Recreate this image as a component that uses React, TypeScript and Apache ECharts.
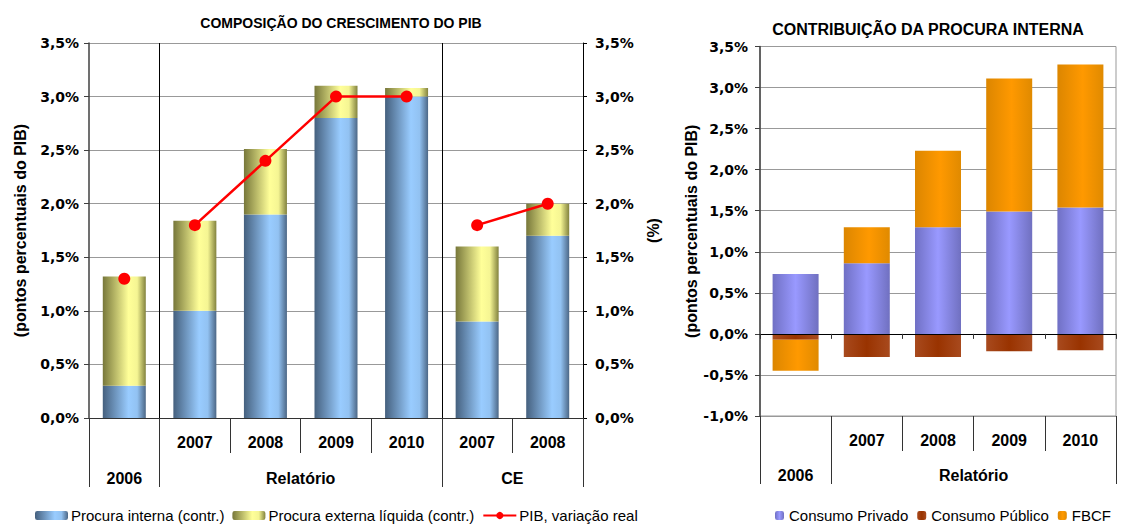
import React, { useEffect, useRef } from 'react';
import * as echarts from 'echarts';

// ---- Left chart data ----
const leftTopLabels = ['', '2007', '2008', '2009', '2010', '2007', '2008'];
const leftGroups = ['2006', 'Relatório', 'Relatório', 'Relatório', 'Relatório', 'CE', 'CE'];
const procuraInterna = [0.3, 1.0, 1.9, 2.8, 3.0, 0.9, 1.7];
const procuraExterna = [1.02, 0.84, 0.61, 0.3, 0.08, 0.7, 0.3];
const pibVariacao = [1.3, 1.8, 2.4, 3.0, 3.0, 1.8, 2.0];

// ---- Right chart data ----
const rightTopLabels = ['', '2007', '2008', '2009', '2010'];
const rightGroups = ['2006', 'Relatório', 'Relatório', 'Relatório', 'Relatório'];
const consumoPrivado = [0.73, 0.86, 1.3, 1.49, 1.54];
const consumoPublico = [-0.07, -0.28, -0.28, -0.21, -0.2];
const fbcf = [-0.38, 0.44, 0.93, 1.62, 1.74];

const FA = 'Liberation Sans, Arial, sans-serif';
const FD = 'DejaVu Sans, Verdana, sans-serif';

const pct = (v: number) => v.toFixed(1).replace('.', ',') + '%';

function groupAxis(groups: string[]) {
  const n = groups.length;
  const data: string[] = new Array(2 * n + 1).fill('');
  const bounds: number[] = [];
  let s = 0;
  for (let i = 1; i <= n; i++) {
    if (i === n || groups[i] !== groups[s]) {
      bounds.push(2 * s);
      data[s + i] = groups[s];
      s = i;
    }
  }
  bounds.push(2 * n);
  return { data, bounds };
}

const hGrad = (stops: [number, string][]) =>
  new echarts.graphic.LinearGradient(0, 0, 1, 0, stops.map(([offset, color]) => ({ offset, color })));

export default function App() {
  const ref = useRef<HTMLDivElement>(null);
  useEffect(() => {
    if (!ref.current) return;
    const chart = echarts.init(ref.current, undefined, { renderer: 'svg' });
    const gl = groupAxis(leftGroups);
    const gr = groupAxis(rightGroups);
    const segs = Array.from(new Set(leftGroups));

    const blue = hGrad([[0, '#45607e'], [0.6, '#99ccff'], [0.8, '#92c2f2'], [1, '#4c6786']]);
    const yellow = hGrad([[0, '#77773a'], [0.6, '#ffff99'], [0.8, '#f5f593'], [1, '#82823e']]);
    const purple = hGrad([[0, '#7070c4'], [0.5, '#9999ff'], [1, '#7070c0']]);
    const brown = hGrad([[0, '#a84a1e'], [0.5, '#993300'], [1, '#a84a1e']]);
    const orange = hGrad([[0, '#dc8600'], [0.55, '#ff9900'], [1, '#e08a00']]);

    const catLabel = { fontFamily: FA, fontWeight: 'bold' as const, fontSize: 16, color: '#000' };
    const tickLabel = { fontFamily: FD, fontWeight: 'bold' as const, fontSize: 14, color: '#000' };
    const nameStyle = { fontFamily: FA, fontWeight: 'bold' as const, fontSize: 16, color: '#000' };

    const option: any = {
      animation: false,
      backgroundColor: '#fff',
      title: [
        {
          text: 'COMPOSIÇÃO DO CRESCIMENTO DO PIB',
          left: 336, top: 11, textAlign: 'center',
          textStyle: { fontFamily: FA, fontWeight: 'bold', fontSize: 14, color: '#000' },
        },
        {
          text: 'CONTRIBUIÇÃO DA PROCURA INTERNA',
          left: 923, top: 16, textAlign: 'center',
          textStyle: { fontFamily: FA, fontWeight: 'bold', fontSize: 16, color: '#000' },
        },
      ],
      legend: [
        {
          data: ['Procura interna (contr.)', 'Procura externa líquida (contr.)', 'PIB, variação real'],
          left: 30, top: 503, itemWidth: 33, itemHeight: 9, itemGap: 8,
          textStyle: { fontFamily: FA, fontSize: 15, color: '#000', padding: [0, 0, 0, -2] },
        },
        {
          data: ['Consumo Privado', 'Consumo Público', 'FBCF'],
          left: 770, top: 503, itemWidth: 9, itemHeight: 9, itemGap: 9,
          textStyle: { fontFamily: FA, fontSize: 15, color: '#000' },
        },
      ],
      grid: [
        { left: 89, top: 43, width: 494, height: 375 },
        { left: 760, top: 46.5, width: 356, height: 369.5, show: true, borderColor: '#999', borderWidth: 1 },
      ],
      xAxis: [
        {
          gridIndex: 0, type: 'category', data: leftTopLabels, position: 'bottom',
          axisLine: { lineStyle: { color: '#333', width: 1 } },
          axisTick: { show: true, length: 35, interval: 0, lineStyle: { color: '#333' } },
          axisLabel: { ...catLabel, margin: 16, interval: 0 },
          splitLine: { show: false },
        },
        {
          gridIndex: 0, type: 'category', data: gl.data, position: 'bottom', boundaryGap: false,
          axisLine: { show: false },
          axisTick: { show: true, length: 69, interval: (i: number) => gl.bounds.includes(i), lineStyle: { color: '#333' } },
          axisLabel: { ...catLabel, margin: 52, interval: 0 },
          splitLine: {
            show: true,
            interval: (i: number) => gl.bounds.includes(i) && i !== 0 && i !== gl.data.length - 1,
            lineStyle: { color: '#000', width: 1 },
          },
        },
        {
          gridIndex: 1, type: 'category', data: rightTopLabels, position: 'bottom', z: 5,
          axisLine: { onZero: true, lineStyle: { color: '#000', width: 1 } },
          axisTick: { show: true, length: 5, interval: 0, lineStyle: { color: '#333' } },
          axisLabel: { show: false },
          splitLine: { show: false },
        },
        {
          gridIndex: 1, type: 'category', data: rightTopLabels, position: 'bottom',
          axisLine: { onZero: false, lineStyle: { color: '#999', width: 1 } },
          axisTick: { show: true, length: 35, interval: 0, lineStyle: { color: '#333' } },
          axisLabel: { ...catLabel, margin: 16, interval: 0 },
          splitLine: { show: false },
        },
        {
          gridIndex: 1, type: 'category', data: gr.data, position: 'bottom', boundaryGap: false,
          axisLine: { show: false, onZero: false },
          axisTick: { show: true, length: 68, interval: (i: number) => gr.bounds.includes(i), lineStyle: { color: '#333' } },
          axisLabel: { ...catLabel, margin: 51, interval: 0 },
          splitLine: { show: false },
        },
      ],
      yAxis: [
        {
          gridIndex: 0, type: 'value', min: 0, max: 3.5, interval: 0.5, position: 'left',
          name: '(pontos percentuais do PIB)', nameLocation: 'middle', nameRotate: 90, nameGap: 61,
          nameTextStyle: nameStyle,
          axisLine: { show: true, lineStyle: { color: '#404040', width: 1.5 } },
          axisTick: { show: true, length: 5, lineStyle: { color: '#404040' } },
          axisLabel: { ...tickLabel, margin: 10, formatter: pct },
          splitLine: { show: true, lineStyle: { color: '#999', width: 1 } },
        },
        {
          gridIndex: 0, type: 'value', min: 0, max: 3.5, interval: 0.5, position: 'right',
          name: '(%)', nameLocation: 'middle', nameRotate: 90, nameGap: 62,
          nameTextStyle: nameStyle,
          axisLine: { show: true, lineStyle: { color: '#000', width: 1 } },
          axisTick: { show: true, length: 4, lineStyle: { color: '#000' } },
          axisLabel: { ...tickLabel, margin: 12, formatter: pct },
          splitLine: { show: false },
        },
        {
          gridIndex: 1, type: 'value', min: -1, max: 3.5, interval: 0.5, position: 'left',
          name: '(pontos percentuais do PIB)', nameLocation: 'middle', nameRotate: 90, nameGap: 58,
          nameTextStyle: nameStyle,
          axisLine: { show: true, lineStyle: { color: '#404040', width: 1.5 } },
          axisTick: { show: true, length: 5, lineStyle: { color: '#404040' } },
          axisLabel: { ...tickLabel, margin: 12, formatter: pct },
          splitLine: { show: true, lineStyle: { color: '#999', width: 1 } },
        },
      ],
      series: [
        {
          name: 'Procura interna (contr.)', type: 'bar', stack: 'left', xAxisIndex: 0, yAxisIndex: 0,
          barWidth: 43, data: procuraInterna, itemStyle: { color: blue },
        },
        {
          name: 'Procura externa líquida (contr.)', type: 'bar', stack: 'left', xAxisIndex: 0, yAxisIndex: 0,
          barWidth: 43, data: procuraExterna, itemStyle: { color: yellow },
        },
        ...segs.map((g) => ({
          name: 'PIB, variação real', type: 'line', xAxisIndex: 0, yAxisIndex: 1, z: 4,
          data: pibVariacao.map((v, i) => (leftGroups[i] === g ? v : null)),
          connectNulls: false, showSymbol: true, symbol: 'circle', symbolSize: 12,
          lineStyle: { color: '#ff0000', width: 2.5 }, itemStyle: { color: '#ff0000' },
        })),
        {
          name: 'Consumo Privado', type: 'bar', stack: 'right', xAxisIndex: 2, yAxisIndex: 2,
          barWidth: 46, data: consumoPrivado, itemStyle: { color: purple },
        },
        {
          name: 'Consumo Público', type: 'bar', stack: 'right', xAxisIndex: 2, yAxisIndex: 2,
          barWidth: 46, data: consumoPublico, itemStyle: { color: brown },
        },
        {
          name: 'FBCF', type: 'bar', stack: 'right', xAxisIndex: 2, yAxisIndex: 2,
          barWidth: 46, data: fbcf, itemStyle: { color: orange },
        },
      ],
    };
    chart.setOption(option);
    return () => chart.dispose();
  }, []);
  return <div ref={ref} style={{ position: 'absolute', left: 0, top: 0, width: 1121, height: 524 }} />;
}
